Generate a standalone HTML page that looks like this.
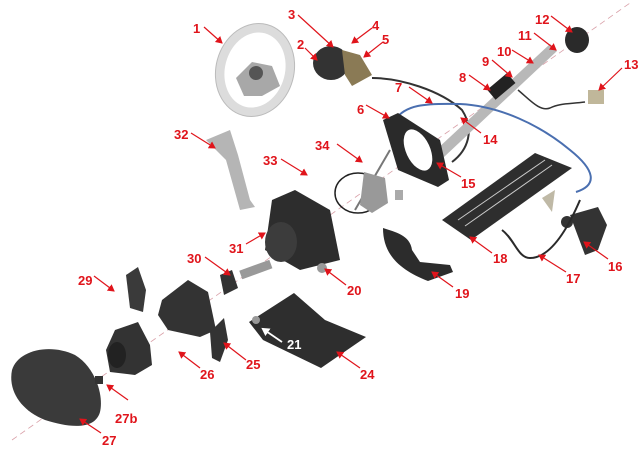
<!DOCTYPE html>
<html><head><meta charset="utf-8"><style>
html,body{margin:0;padding:0;background:#fff;overflow:hidden}
svg{display:block}
text{font-family:"Liberation Sans",sans-serif;font-weight:bold;font-size:13px;fill:#e0141b}
</style></head><body>
<svg width="641" height="449" viewBox="0 0 641 449" xmlns="http://www.w3.org/2000/svg">
<defs><marker id="a" markerWidth="8" markerHeight="8" refX="6" refY="4" orient="auto" markerUnits="userSpaceOnUse"><path d="M0,0 L7,4 L0,8 Z" fill="#e0141b"/></marker>
<marker id="w" markerWidth="9" markerHeight="9" refX="6" refY="4.5" orient="auto" markerUnits="userSpaceOnUse"><path d="M0,0 L8,4.5 L0,9 Z" fill="#fff"/></marker></defs>
<line x1="12" y1="440" x2="630" y2="3" stroke="#d9a0a8" stroke-width="0.8" stroke-dasharray="6,4"/>
<!-- steering wheel -->
<ellipse cx="255" cy="70" rx="39" ry="47" fill="#dcdcdc" stroke="#bbb" transform="rotate(15 255 70)"/>
<ellipse cx="255" cy="70" rx="30" ry="38" fill="#fff" transform="rotate(15 255 70)"/>
<path d="M236,78 L252,62 L272,66 L280,86 L262,96 L244,96 Z" fill="#a8a8a8"/>
<circle cx="256" cy="73" r="7" fill="#555"/>
<!-- hub 2-5 -->
<ellipse cx="331" cy="63" rx="18" ry="17" fill="#333"/>
<path d="M342,50 L360,55 L372,75 L352,86 L345,75 Z" fill="#8a7a55"/>
<path d="M372,78 C400,78 440,90 462,110 C475,130 468,150 452,162" stroke="#333" stroke-width="2" fill="none"/>
<!-- column -->
<path d="M436,150 L550,44 L557,51 L444,157 Z" fill="#b8b8b8"/>
<rect x="488" y="80" width="26" height="13" fill="#222" transform="rotate(-40 501 86)"/>
<ellipse cx="577" cy="40" rx="12" ry="13" fill="#2a2a2a"/>
<path d="M518,90 C530,100 540,112 550,108 C560,103 570,104 585,102" stroke="#333" stroke-width="1.5" fill="none"/>
<rect x="588" y="90" width="16" height="14" fill="#c0b79a"/>
<!-- blue cable -->
<path d="M395,120 C405,105 424,103 460,104 C500,106 540,125 570,150 C595,170 598,185 576,192" stroke="#4a6fb0" stroke-width="2" fill="none"/>
<!-- ring 6/15 -->
<path d="M383,120 L398,113 L440,140 L449,180 L438,187 L398,170 Z" fill="#2a2a2a"/>
<ellipse cx="418" cy="150" rx="12" ry="22" fill="#fff" transform="rotate(-25 418 150)"/>
<line x1="355" y1="210" x2="390" y2="150" stroke="#777" stroke-width="2"/>
<!-- impeller 34 -->
<ellipse cx="358" cy="193" rx="23" ry="20" fill="none" stroke="#222" stroke-width="1.5"/>
<path d="M364,172 L385,178 L388,203 L372,213 L360,205 Z" fill="#999"/>
<rect x="395" y="190" width="8" height="10" fill="#aaa"/>
<!-- 32 -->
<path d="M206,140 L230,130 L238,155 L250,200 L255,207 L240,210 L226,160 Z" fill="#b5b5b5"/>
<!-- pump 31 -->
<path d="M272,200 L295,190 L330,210 L340,260 L300,270 L265,250 Z" fill="#2d2d2d"/>
<ellipse cx="281" cy="242" rx="16" ry="20" fill="#3c3c3c"/>
<rect x="240" y="265" width="32" height="9" fill="#999" transform="rotate(-20 256 270)"/>
<circle cx="322" cy="268" r="5" fill="#999"/>
<!-- 30 -->
<path d="M220,275 L232,270 L238,288 L224,295 Z" fill="#333"/>
<!-- nozzle housing -->
<path d="M162,300 L188,280 L208,292 L216,330 L200,337 L168,330 L158,315 Z" fill="#333"/>
<!-- 29 bracket -->
<path d="M126,275 L138,267 L146,290 L143,312 L130,308 Z" fill="#3a3a3a"/>
<!-- 26 nozzle -->
<path d="M115,330 L138,322 L150,345 L152,365 L135,375 L110,372 L106,350 Z" fill="#333"/>
<ellipse cx="117" cy="355" rx="9" ry="13" fill="#222"/>
<!-- 27 -->
<path d="M12,370 C18,350 50,343 75,355 C95,367 104,395 100,412 C95,430 70,428 45,420 C20,410 8,390 12,370 Z" fill="#3a3a3a"/>
<rect x="95" y="376" width="8" height="8" fill="#333"/>
<!-- 25 -->
<path d="M210,332 L224,318 L228,340 L220,362 L212,358 Z" fill="#333"/>
<!-- 24 -->
<path d="M249,322 L294,293 L325,320 L366,337 L321,368 L263,340 Z" fill="#2e2e2e"/>
<line x1="282" y1="342" x2="263" y2="329" stroke="#fff" stroke-width="1.8" marker-end="url(#w)"/>
<circle cx="256" cy="320" r="4" fill="#999"/>
<text x="287" y="349" style="fill:#fff">21</text>
<!-- 19 -->
<path d="M383,228 C395,232 410,235 412,250 L420,262 L450,265 L453,272 L428,281 C400,270 383,255 383,228 Z" fill="#2c2c2c"/>
<!-- 18 -->
<path d="M442,220 L535,153 L572,168 L471,240 Z" fill="#2e2e2e"/>
<line x1="458" y1="220" x2="545" y2="160" stroke="#ccc"/>
<line x1="465" y1="226" x2="552" y2="165" stroke="#ccc"/>
<!-- 16/17 -->
<path d="M570,215 L598,207 L607,225 L598,250 L585,255 Z" fill="#333"/>
<circle cx="567" cy="222" r="6" fill="#333"/>
<path d="M502,230 C515,240 518,258 530,258 C548,258 565,235 580,200" stroke="#2a2a2a" stroke-width="2" fill="none"/>
<path d="M542,198 L555,190 L552,212 Z" fill="#bfb9a6"/>
<!-- labels -->
<g stroke="#e0141b" stroke-width="1.2" marker-end="url(#a)" fill="none">
<line x1="204" y1="27" x2="222" y2="43"/>
<line x1="305" y1="48" x2="317" y2="60"/>
<line x1="298" y1="15" x2="333" y2="47"/>
<line x1="372" y1="28" x2="352" y2="43"/>
<line x1="383" y1="42" x2="364" y2="57"/>
<line x1="366" y1="105" x2="389" y2="118"/>
<line x1="409" y1="87" x2="432" y2="103"/>
<line x1="469" y1="75" x2="490" y2="90"/>
<line x1="492" y1="60" x2="512" y2="77"/>
<line x1="512" y1="50" x2="533" y2="63"/>
<line x1="534" y1="33" x2="556" y2="50"/>
<line x1="551" y1="16" x2="572" y2="32"/>
<line x1="622" y1="68" x2="599" y2="90"/>
<line x1="481" y1="133" x2="461" y2="118"/>
<line x1="461" y1="177" x2="437" y2="163"/>
<line x1="608" y1="259" x2="584" y2="242"/>
<line x1="566" y1="272" x2="539" y2="255"/>
<line x1="492" y1="253" x2="470" y2="237"/>
<line x1="453" y1="287" x2="432" y2="272"/>
<line x1="346" y1="285" x2="325" y2="269"/>
<line x1="360" y1="368" x2="337" y2="352"/>
<line x1="246" y1="360" x2="224" y2="343"/>
<line x1="200" y1="368" x2="179" y2="352"/>
<line x1="101" y1="433" x2="80" y2="419"/>
<line x1="128" y1="400" x2="107" y2="385"/>
<line x1="94" y1="276" x2="114" y2="291"/>
<line x1="205" y1="257" x2="230" y2="275"/>
<line x1="246" y1="244" x2="265" y2="233"/>
<line x1="191" y1="133" x2="215" y2="148"/>
<line x1="281" y1="159" x2="307" y2="175"/>
<line x1="337" y1="144" x2="362" y2="162"/>
</g>
<text x="193" y="33">1</text>
<text x="297" y="49">2</text>
<text x="288" y="19">3</text>
<text x="372" y="30">4</text>
<text x="382" y="44">5</text>
<text x="357" y="114">6</text>
<text x="395" y="92">7</text>
<text x="459" y="82">8</text>
<text x="482" y="66">9</text>
<text x="497" y="56">10</text>
<text x="518" y="40">11</text>
<text x="535" y="24">12</text>
<text x="624" y="69">13</text>
<text x="483" y="144">14</text>
<text x="461" y="188">15</text>
<text x="608" y="271">16</text>
<text x="566" y="283">17</text>
<text x="493" y="263">18</text>
<text x="455" y="298">19</text>
<text x="347" y="295">20</text>
<text x="360" y="379">24</text>
<text x="246" y="369">25</text>
<text x="200" y="379">26</text>
<text x="102" y="445">27</text>
<text x="115" y="423">27b</text>
<text x="78" y="285">29</text>
<text x="187" y="263">30</text>
<text x="229" y="253">31</text>
<text x="174" y="139">32</text>
<text x="263" y="165">33</text>
<text x="315" y="150">34</text>
</svg>
</body></html>
